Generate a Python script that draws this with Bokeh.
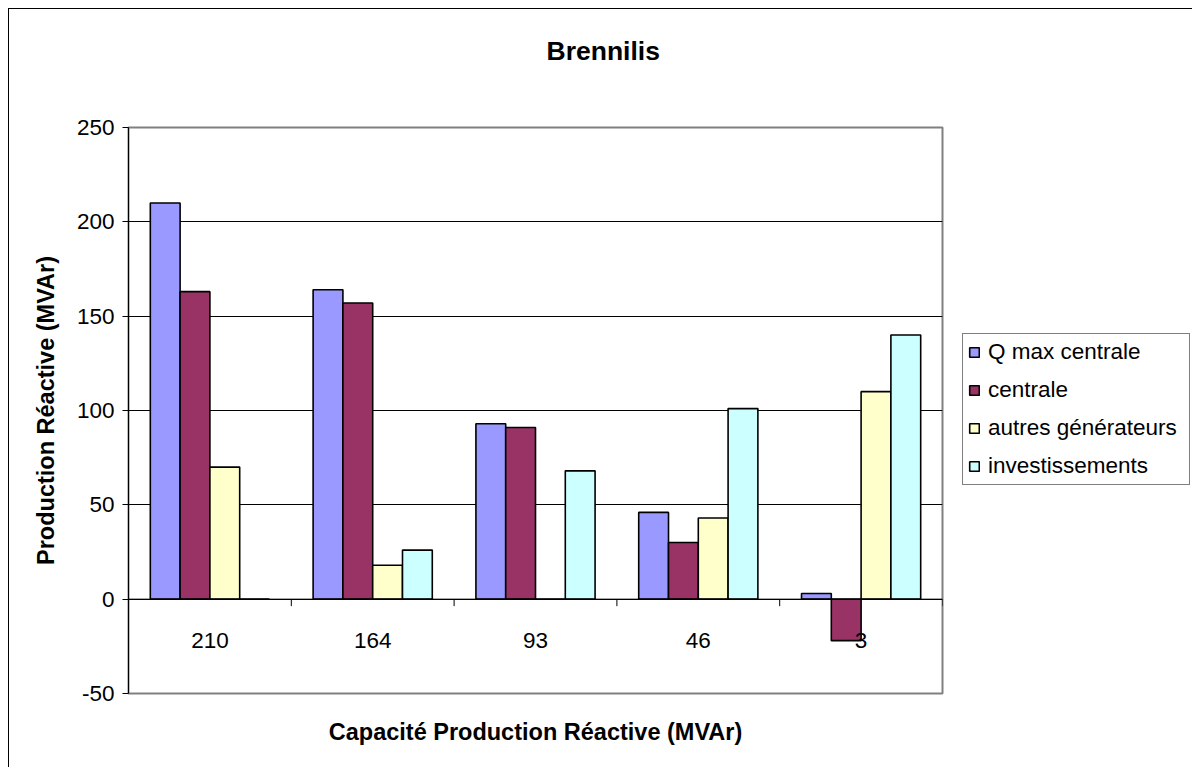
from bokeh.plotting import figure
from bokeh.models import (Range1d, FixedTicker, Span, Legend, LegendItem, Title,
                          ColumnDataSource)
from bokeh.core.properties import value
from bokeh.embed import file_html
from bokeh.resources import INLINE

# ---- data ----
categories = ["210", "164", "93", "46", "3"]
series_names = ["Q max centrale", "centrale", "autres générateurs", "investissements"]
q_max = [210, 164, 93, 46, 3]
centrale = [163, 157, 91, 30, -22]
autres = [70, 18, 0, 43, 110]
invest = [0, 26, 68, 101, 140]
y_ticks = [-50, 0, 50, 100, 150, 200, 250]

colors = ["#9999FF", "#993366", "#FFFFCC", "#CCFFFF"]
FONT = "Liberation Sans"

n = len(categories)
centers = [i + 0.5 for i in range(n)]
bar_w = 0.183
offsets = [-1.5 * bar_w, -0.5 * bar_w, 0.5 * bar_w, 1.5 * bar_w]

p = figure(frame_width=814, frame_height=566,
           x_range=Range1d(0, n), y_range=Range1d(-50, 250),
           output_backend="svg", toolbar_location=None,
           min_border_left=119, min_border_top=118, min_border_right=242,
           min_border_bottom=68, x_axis_location=None,
           background_fill_color="white", border_fill_color="white",
           styles={"margin-left": "8px", "margin-top": "8px",
                   "border-left": "1px solid black", "border-top": "1px solid black"})

p.outline_line_color = "#808080"
p.outline_line_width = 2

# y axis
ya = p.yaxis[0]
ya.ticker = FixedTicker(ticks=y_ticks)
ya.major_label_overrides = {t: str(t) for t in y_ticks}
ya.minor_tick_line_color = None
ya.major_tick_in = 0
ya.major_tick_out = 6
ya.axis_line_color = "black"
ya.major_tick_line_color = "black"
ya.major_label_text_font = FONT
ya.major_label_text_font_size = "22.5px"
ya.major_label_text_color = "black"
ya.major_label_standoff = 8
ya.axis_label = "Production Réactive (MVAr)"
ya.axis_label_text_font = FONT
ya.axis_label_text_font_size = "23.5px"
ya.axis_label_text_font_style = "bold"
ya.axis_label_text_color = "black"
ya.axis_label_standoff = 15

p.xgrid.visible = False
p.ygrid.ticker = FixedTicker(ticks=y_ticks)
p.ygrid.grid_line_color = "#000000"
p.ygrid.grid_line_width = 1

# bars
series = [q_max, centrale, autres, invest]
renderers = []
for vals, col, off in zip(series, colors, offsets):
    src = ColumnDataSource(dict(x=[c + off for c in centers], top=vals))
    r = p.vbar(x="x", top="top", bottom=0, width=bar_w, source=src,
               fill_color=col, line_color="black", line_width=1.6)
    renderers.append(r)

# zero line & category boundary ticks
p.add_layout(Span(location=0, dimension="width", line_color="black", line_width=1))
bounds = [i + 1 for i in range(n)]
p.segment(x0=bounds, y0=[0] * n, x1=bounds, y1=[-3.7] * n, line_color="black", line_width=1)

# category labels
p.text(x=centers, y=[0] * n, text=categories, y_offset=41,
       text_align="center", text_baseline="middle",
       text_font=value(FONT), text_font_size="22.5px", text_color="black")

# titles: a thin spacer keeps the main title away from the frame
p.add_layout(Title(text=" ", standoff=59, text_font_size="1px"), "above")
p.add_layout(Title(text="Brennilis", align="left", offset=418, standoff=0,
                   text_font=FONT, text_font_size="26.5px", text_font_style="bold",
                   text_color="black"), "above")
p.add_layout(Title(text="Capacité Production Réactive (MVAr)", align="center", standoff=46,
                   text_font=FONT, text_font_size="23.5px", text_font_style="bold",
                   text_color="black"), "below")

# legend
items = [LegendItem(label=nm, renderers=[r]) for nm, r in zip(series_names, renderers)]
legend = Legend(items=items, location=(20, 208), margin=0, padding=5,
                glyph_width=12, glyph_height=12, label_standoff=8,
                label_height=22, label_width=196, spacing=12,
                label_text_font=FONT, label_text_font_size="22.5px", label_text_color="black",
                border_line_color="black", border_line_width=1,
                background_fill_color="white")
p.add_layout(legend, "right")

open("out.html", "w").write(file_html(p, INLINE))
